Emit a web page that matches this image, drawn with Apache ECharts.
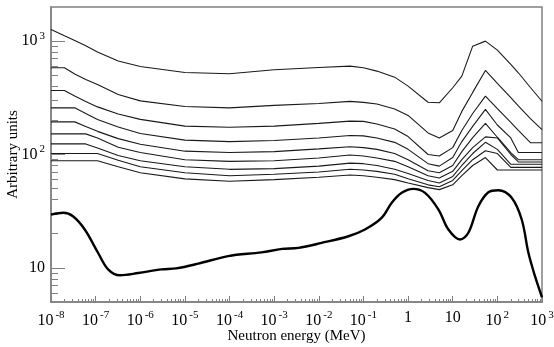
<!DOCTYPE html>
<html>
<head>
<meta charset="utf-8">
<script src="https://cdn.jsdelivr.net/npm/echarts@6/dist/echarts.min.js"></script>
<style>
  html, body { margin: 0; padding: 0; background: #fff; }
  #chart { width: 554px; height: 347px; }
</style>
</head>
<body>
<div id="chart"></div>
<script>
// energies (MeV) shared by the thin curves
const energies = [1e-8, 2e-8, 3.4e-8, 6e-8, 1.1e-7, 3.2e-7, 1e-6, 1e-5, 1e-4, 1e-3, 1e-2, 0.05, 0.1, 0.2, 0.5, 1, 2.8, 5, 10, 16, 28, 54, 100, 200, 295, 550, 1000]

const line1 = [1268, 1116, 1015, 911, 803, 669, 598, 529, 515, 559, 586, 602, 582, 544, 481, 401, 289, 286, 388, 491, 903, 1000, 833, 623, 526, 390, 295]
const line2 = [582, 582, 513, 459, 415, 338, 297, 265, 258, 271, 282, 294, 288, 279, 252, 221, 155, 140, 163, 240, 353, 551, 423, 317, 268, 207, 166]
const line3 = [367, 367, 328, 294, 263, 228, 204, 178, 174, 178, 188, 197, 196, 186, 168, 144, 100, 97, 115, 163, 230, 327, 254, 192, 163, 127, 127]
const line4 = [258, 258, 258, 230, 204, 175, 153, 134, 130, 133, 140, 147, 146, 140, 128, 111, 83, 79, 94, 130, 177, 250, 182, 140, 104, 104, 104]
const line5 = [194, 194, 194, 177, 160, 138, 123, 107, 104, 106, 112, 117, 115, 111, 102, 90, 72, 69, 80, 106, 141, 188, 142, 104, 90, 90, 90]
const line6 = [152, 152, 152, 152, 140, 116, 104, 90, 87, 88, 93, 99, 97, 93, 87, 78, 65, 62, 71, 90, 115, 143, 140, 100, 86, 86, 86]
const line7 = [124, 124, 124, 124, 114, 98, 88, 78, 74, 75, 79, 84, 83, 80, 74, 68, 59, 56, 64, 80, 102, 128, 111, 82, 82, 82, 82]
const line8 = [102, 102, 102, 102, 102, 89, 78, 69, 65, 67, 70, 74, 73, 71, 67, 61, 54, 52, 59, 72, 90, 108, 102, 77, 77, 77, 77]
const line9 = [88, 88, 88, 88, 88, 78, 69, 61, 58, 60, 63, 66, 65, 63, 60, 56, 51, 49, 54, 65, 80, 94, 73, 73, 73, 73, 73]

// the bold curve
const thickE = [1e-8, 1.9e-8, 3.1e-8, 5.7e-8, 1.13e-7, 1.9e-7, 3.5e-7, 9e-7, 3e-6, 6.4e-6, 2e-5, 9.3e-5, 5.2e-4, 1.5e-3, 3.5e-3, 0.0115, 0.046, 0.108, 0.255, 0.43, 0.72, 1.3, 2.4, 4.8, 8, 14.6, 22.4, 37.5, 63, 105, 209, 351, 496, 700, 1000]
const thickV = [29.5, 30.6, 28.5, 21.8, 13.6, 9.7, 8.6, 9.0, 9.7, 9.9, 10.9, 12.7, 13.7, 14.7, 15.0, 16.6, 19.0, 21.8, 27.6, 37.5, 45.9, 49.8, 45.9, 32.7, 21.8, 17.8, 20.4, 35.0, 46.5, 48.4, 41.5, 26.7, 13.6, 8.4, 5.5]

// axis ranges and tick labels (exponents of 10)
const xMin = 1e-8, xMax = 1e3
const yMin = 5, yMax = 2000
const xTickExp = [-8, -7, -6, -5, -4, -3, -2, -1, 0, 1, 2, 3]
const yTickExp = [1, 2, 3]

const axisGray = '#808080'
const font = 'Liberation Serif'

// log minor ticks (2..9 in each decade) in exponent space
const minorTicks = (lo, hi) => {
  const out = []
  for (let d = Math.floor(lo); d < hi; d++) {
    for (let k = 2; k <= 9; k++) {
      const v = d + Math.log10(k)
      if (v > lo && v < hi) out.push(v)
    }
  }
  return out
}

const powLabel = (v) => {
  const n = Math.round(v)
  if (n === 0) return '{b|1}'
  if (n === 1) return '{b|10}'
  return '{b|10}{s|' + n + '}'
}

const rich = {
  b: { fontSize: 16, fontFamily: font, color: '#000' },
  s: { fontSize: 11, fontFamily: font, color: '#000', padding: [0, 0, 10, 2] }
}

const thinNames = ['line1', 'line2', 'line3', 'line4', 'line5', 'line6', 'line7', 'line8', 'line9']
const thinData = [line1, line2, line3, line4, line5, line6, line7, line8, line9]

const chart = echarts.init(document.getElementById('chart'))

const series = thinData.map((vals, k) => ({
  name: thinNames[k],
  type: 'line',
  xAxisIndex: 0,
  yAxisIndex: 0,
  symbol: 'none',
  lineStyle: { color: '#1a1a1a', width: 1.1 },
  data: energies.map((e, i) => [e, vals[i]])
}))

series.push({
  name: 'total',
  type: 'line',
  xAxisIndex: 0,
  yAxisIndex: 0,
  symbol: 'none',
  smooth: 0.35,
  lineStyle: { color: '#000', width: 2.4 },
  data: thickE.map((e, i) => [e, thickV[i]])
})

const lx = [Math.log10(xMin), Math.log10(xMax)]
const ly = [Math.log10(yMin), Math.log10(yMax)]

chart.setOption({
  animation: false,
  backgroundColor: '#fff',
  grid: {
    left: 51, right: 12, top: 7, bottom: 45,
    outerBoundsMode: 'none',
    containLabel: false,
    show: true, borderColor: axisGray, borderWidth: 1.5
  },
  xAxis: [
    { type: 'log', min: xMin, max: xMax, show: false },
    {
      type: 'value', min: lx[0], max: lx[1], position: 'bottom',
      axisLine: { show: true, onZero: false, lineStyle: { color: axisGray, width: 1.5 } },
      splitLine: { show: false },
      axisTick: { inside: true, length: 6, customValues: xTickExp, lineStyle: { color: axisGray } },
      axisLabel: { customValues: xTickExp, formatter: powLabel, rich: rich, margin: 8 },
      name: 'Neutron energy (MeV)',
      nameLocation: 'middle',
      nameMoveOverlap: false,
      nameGap: 27,
      nameTextStyle: { fontSize: 15, fontFamily: font, color: '#000' }
    },
    {
      type: 'value', min: lx[0], max: lx[1], position: 'bottom',
      axisLine: { show: false, onZero: false },
      splitLine: { show: false },
      axisTick: { inside: true, length: 3, customValues: minorTicks(lx[0], lx[1]), lineStyle: { color: axisGray } },
      axisLabel: { show: false }
    }
  ],
  yAxis: [
    { type: 'log', min: yMin, max: yMax, show: false },
    {
      type: 'value', min: ly[0], max: ly[1], position: 'left',
      axisLine: { show: true, onZero: false, lineStyle: { color: axisGray, width: 1.5 } },
      splitLine: { show: false },
      axisTick: { inside: true, length: 14, customValues: yTickExp, lineStyle: { color: axisGray } },
      axisLabel: { customValues: yTickExp, formatter: powLabel, rich: rich, margin: 6 },
      name: 'Arbitrary units',
      nameLocation: 'middle',
      nameMoveOverlap: false,
      nameGap: 30,
      nameTextStyle: { fontSize: 15, fontFamily: font, color: '#000' }
    },
    {
      type: 'value', min: ly[0], max: ly[1], position: 'left',
      axisLine: { show: false, onZero: false },
      splitLine: { show: false },
      axisTick: { inside: true, length: 7, customValues: minorTicks(ly[0], ly[1]), lineStyle: { color: axisGray } },
      axisLabel: { show: false }
    }
  ],
  series: series
})
</script>
</body>
</html>
